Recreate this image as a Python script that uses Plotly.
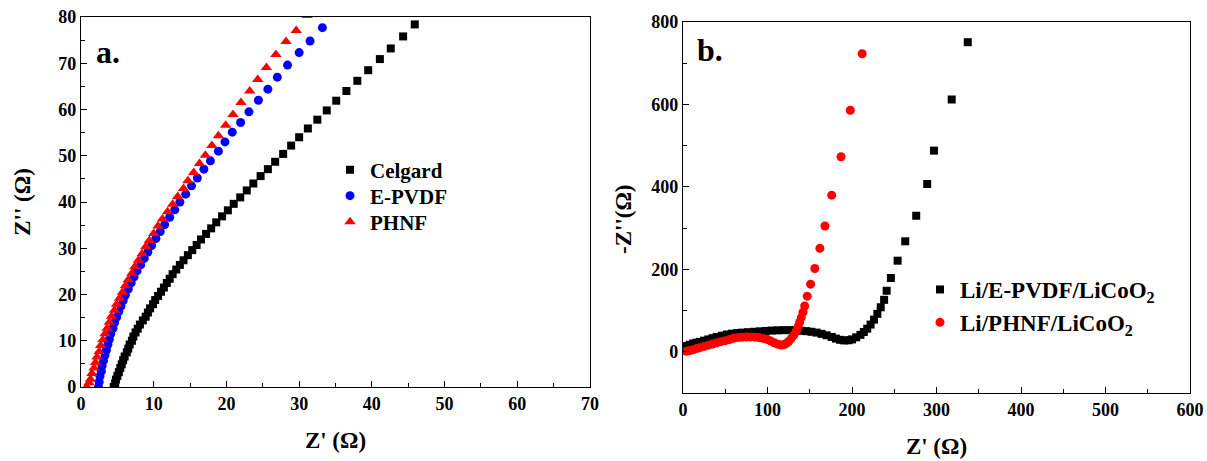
import plotly.graph_objects as go

# ---------------- Panel a data ----------------
celgard_x = [4.5, 4.7, 4.8, 5.0, 5.2, 5.4, 5.6, 5.8, 6.0, 6.3, 6.5, 6.7, 7.0, 7.2, 7.5, 7.8, 8.1, 8.5, 8.9, 9.2,
             9.5, 9.9, 10.2, 10.6, 11.0, 11.4, 11.8, 12.2, 12.6, 13.1, 13.6, 14.1, 14.7, 15.3, 15.9, 16.5, 17.2, 17.9, 18.6, 19.4,
             20.2, 21.0, 21.9, 22.8, 23.7, 24.7, 25.7, 26.7, 27.8, 28.9, 30.0, 31.2, 32.5, 33.8, 35.1, 36.5, 38.0, 39.5, 41.1, 42.6,
             44.3, 45.9]
celgard_y = [0.0, 0.8, 1.6, 2.4, 3.2, 4.1, 4.9, 5.8, 6.6, 7.5, 8.3, 9.2, 10.0, 10.9, 11.8, 12.6, 13.5, 14.4, 15.2, 16.1,
             17.0, 17.9, 18.8, 19.7, 20.6, 21.5, 22.5, 23.4, 24.4, 25.4, 26.4, 27.4, 28.5, 29.6, 30.7, 31.9, 33.1, 34.3, 35.6, 36.9,
             38.2, 39.6, 41.0, 42.5, 44.0, 45.6, 47.1, 48.7, 50.4, 52.2, 54.0, 55.9, 57.8, 59.8, 61.9, 64.0, 66.2, 68.5, 70.9, 73.2,
             75.8, 78.4]

epvdf_x = [2.4, 2.5, 2.6, 2.8, 2.9, 3.1, 3.3, 3.5, 3.7, 3.9, 4.1, 4.4, 4.6, 4.9, 5.2, 5.5, 5.8, 6.1, 6.5, 6.9,
           7.3, 7.7, 8.2, 8.7, 9.2, 9.7, 10.3, 10.9, 11.5, 12.2, 12.9, 13.6, 14.4, 15.2, 16.0, 16.9, 17.8, 18.9, 19.8, 20.8,
           21.95, 23.1, 24.4, 25.7, 27.0, 28.4, 30.0, 31.5, 33.2]
epvdf_y = [0.0, 1.1, 2.3, 3.4, 4.6, 5.7, 6.9, 8.0, 9.2, 10.3, 11.5, 12.7, 13.9, 15.1, 16.3, 17.5, 18.7, 19.9, 21.2, 22.5,
           23.8, 25.1, 26.4, 27.8, 29.2, 30.6, 32.1, 33.6, 35.1, 36.7, 38.3, 40.0, 41.7, 43.5, 45.2, 47.1, 48.9, 51.0, 53.0, 55.1,
           57.2, 59.5, 62.0, 64.4, 67.0, 69.6, 72.3, 74.8, 77.7]

phnf_x = [0.8, 1.1, 1.3, 1.5, 1.8, 2.0, 2.2, 2.5, 2.7, 3.0, 3.3, 3.6, 3.9, 4.2, 4.6, 4.9, 5.3, 5.7, 6.1, 6.5,
          7.0, 7.4, 7.9, 8.4, 8.9, 9.4, 10.0, 10.6, 11.2, 11.9, 12.6, 13.3, 14.1, 14.7, 15.5, 16.3, 17.1, 18.0, 18.9, 19.9,
          20.9, 22.0, 23.2, 24.3, 25.5, 26.8, 28.2, 29.6, 31.1]
phnf_y = [0.0, 0.9, 1.7, 2.9, 4.1, 5.3, 6.5, 7.7, 9.0, 10.2, 11.5, 12.7, 14.0, 15.3, 16.6, 17.9, 19.2, 20.5, 21.9, 23.2,
          24.6, 26.0, 27.4, 28.8, 30.3, 31.7, 33.2, 34.8, 36.3, 37.9, 39.5, 41.2, 42.9, 44.6, 46.4, 48.3, 50.1, 52.2, 54.3, 56.6,
          58.9, 61.5, 64.0, 66.5, 69.1, 71.9, 74.7, 77.1, 80.3]

# ---------------- Panel b data ----------------
b_epvdf_x = [1, 4, 8, 12, 16, 20, 25, 30, 35, 40, 46, 52, 58, 64, 70, 77, 84, 91, 98, 105,
             112, 119, 126, 133, 140, 146, 152, 158, 164, 170, 176, 181, 186, 191, 196, 200, 205, 210, 214, 218,
             222, 226, 230, 234, 238, 241, 246, 254, 263, 276, 289, 297, 318, 337]
b_epvdf_y = [11, 14, 17, 20, 22, 24, 27, 30, 33, 36, 39, 42, 44, 45.5, 46.5, 47.5, 48.5, 49.5, 50.5, 51.5,
             52, 52.5, 52.5, 52, 51, 50, 48.5, 46.5, 43.5, 40, 36, 32, 29, 27.5, 28, 30, 35, 41, 48, 56,
             66, 78, 92, 108, 126, 148, 179, 221, 268, 330, 407, 488, 612, 751]

b_phnf_x = [4, 8, 12, 16, 20, 25, 30, 35, 40, 45, 50, 55, 60, 65, 70, 75, 80, 85, 90, 95,
            100, 104, 108, 112, 116, 119, 122, 125, 128, 131, 134, 136, 138, 140, 142, 144, 147, 151, 156, 162,
            168, 176, 187, 198, 212]
b_phnf_y = [1, 3, 5, 8, 10, 13, 16, 19, 22, 24.5, 27, 29.5, 33, 34.5, 35.5, 36, 36, 35.5, 34.5, 32.5,
            29.5, 26, 22, 18.5, 16.5, 17, 20, 25, 32, 40, 50, 60, 71, 83, 96, 111, 135, 164, 202, 251,
            305, 380, 473, 586, 723]

# tick labels
a_xticks = [0, 10, 20, 30, 40, 50, 60, 70]
a_yticks = [0, 10, 20, 30, 40, 50, 60, 70, 80]
b_xticks = [0, 100, 200, 300, 400, 500, 600]
b_yticks = [0, 200, 400, 600, 800]

FONT = "Liberation Serif"


def bold(vals):
    return ["<b>%d</b>" % v for v in vals]


fig = go.Figure()
fig.add_trace(go.Scatter(x=celgard_x, y=celgard_y, mode="markers", name="Celgard", showlegend=True,
                         marker=dict(symbol="square", size=8, color="black"),
                         xaxis="x", yaxis="y", legend="legend5"))
fig.add_trace(go.Scatter(x=epvdf_x, y=epvdf_y, mode="markers", name="E-PVDF", showlegend=True,
                         marker=dict(symbol="circle", size=9, color="#0000ff"),
                         xaxis="x", yaxis="y", legend="legend3"))
fig.add_trace(go.Scatter(x=phnf_x, y=phnf_y, mode="markers", name="PHNF", showlegend=True,
                         marker=dict(symbol="triangle-up", size=10, color="#ff0000"),
                         xaxis="x", yaxis="y", legend="legend4"))
fig.add_trace(go.Scatter(x=b_epvdf_x, y=b_epvdf_y, mode="markers", name="Li/E-PVDF/LiCoO<sub>2</sub>",
                         showlegend=True, marker=dict(symbol="square", size=8, color="black"),
                         xaxis="x2", yaxis="y2", legend="legend2"))
fig.add_trace(go.Scatter(x=b_phnf_x, y=b_phnf_y, mode="markers", name="Li/PHNF/LiCoO<sub>2</sub>",
                         showlegend=True, marker=dict(symbol="circle", size=9, color="#ff0000"),
                         xaxis="x2", yaxis="y2", legend="legend2"))


def tickfont():
    return dict(family=FONT, size=18, color="black")


def titlefont():
    return dict(family=FONT, size=23, color="black")


def common():
    return dict(showgrid=False, zeroline=False, showline=True, mirror=True, linecolor="black",
                linewidth=1.2, ticks="inside", ticklen=6, tickwidth=1.2, tickcolor="black",
                tickfont=tickfont(), automargin=False)


# plot area (margins) spans pixels x 81..1190, y 17..393
L, R, T, B = 81, 17, 17, 68
W, H = 1207, 461
pw, ph = W - L - R, H - T - B


def px(x):
    return (x - L) / pw


def py(y):
    return (H - B - y) / ph


def leg(x, y, size, anchor="middle"):
    return dict(x=px(x), y=py(y), xanchor="left", yanchor=anchor, visible=True,
                font=dict(family=FONT, size=size, color="black", weight="bold"),
                bgcolor="rgba(0,0,0,0)", tracegroupgap=0)


fig.update_layout(
    width=W, height=H,
    showlegend=True,
    margin=dict(l=L, r=R, t=T, b=B),
    font=dict(family=FONT, size=18, color="black"),
    paper_bgcolor="white", plot_bgcolor="white",
    xaxis=dict(domain=[0, px(590)], range=[0, 70], tickvals=a_xticks, ticktext=bold(a_xticks), anchor="y",
               minor=dict(dtick=5, ticks="inside", ticklen=4, tickcolor="black"),
               title=dict(text="<b>Z' (Ω)</b>", font=titlefont(), standoff=19), **common()),
    yaxis=dict(domain=[py(387), 1], range=[0, 80], tickvals=a_yticks, ticktext=bold(a_yticks), anchor="x",
               minor=dict(dtick=5, ticks="inside", ticklen=4, tickcolor="black"),
               title=dict(text="<b>Z'' (Ω)</b>", font=titlefont(), standoff=21), **common()),
    xaxis2=dict(domain=[px(683), 1], range=[0, 600], tickvals=b_xticks, ticktext=bold(b_xticks), anchor="y2",
                minor=dict(dtick=50, ticks="inside", ticklen=4, tickcolor="black"),
                title=dict(text="<b>Z' (Ω)</b>", font=titlefont(), standoff=19), **common()),
    yaxis2=dict(domain=[0, py(22)], range=[-100, 800], tickvals=b_yticks, ticktext=bold(b_yticks), anchor="x2",
                minor=dict(dtick=100, tick0=0, ticks="inside", ticklen=4, tickcolor="black"),
                **common()),
    legend=dict(visible=False),
    legend5=leg(330, 170, 21),
    legend3=leg(330, 196, 21),
    legend4=leg(330, 222, 21),
    legend2=dict(x=px(920), y=py(268), xanchor="left", yanchor="top", visible=True,
                 font=dict(family=FONT, size=23, color="black", weight="bold"),
                 bgcolor="rgba(0,0,0,0)", tracegroupgap=0),
    annotations=[
        dict(text="a.", x=px(108), y=py(52), xref="paper", yref="paper", showarrow=False,
             xanchor="center", yanchor="middle",
             font=dict(family=FONT, size=32, color="black", weight="bold")),
        dict(text="b.", x=px(710), y=py(50), xref="paper", yref="paper", showarrow=False,
             xanchor="center", yanchor="middle",
             font=dict(family=FONT, size=32, color="black", weight="bold")),
        dict(text="-Z''(Ω)", x=px(623), y=py(219), xref="paper", yref="paper", showarrow=False,
             xanchor="center", yanchor="middle", textangle=-90,
             font=dict(family=FONT, size=23, color="black", weight="bold")),
    ],
)

fig.write_html("out.html")
